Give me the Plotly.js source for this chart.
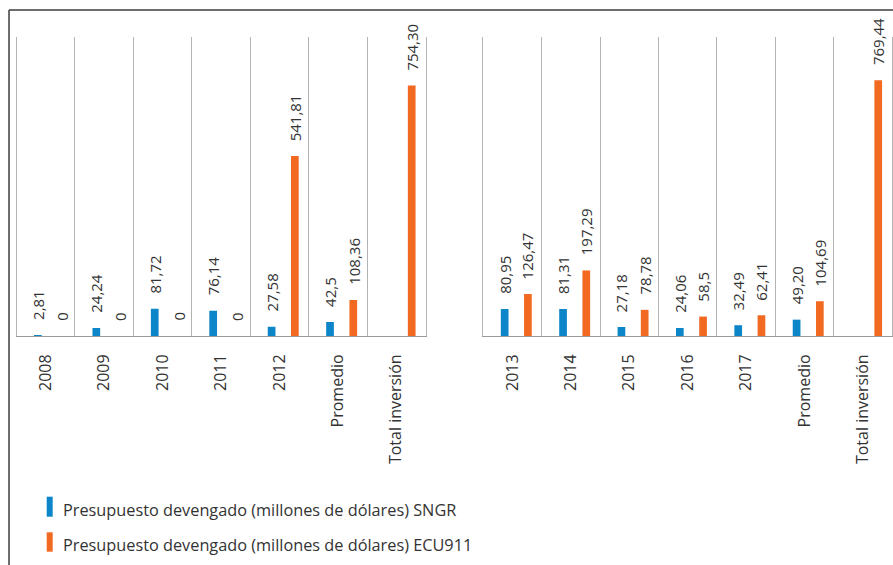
<!DOCTYPE html>
<html><head><meta charset="utf-8">
<script src="https://cdn.plot.ly/plotly-3.0.1.min.js"></script>
<style>html,body{margin:0;padding:0;background:#fff}</style>
</head><body><div id="chart" style="width:893px;height:565px"></div>
<script>
const categoriesLeft = ['2008','2009','2010','2011','2012','Promedio','Total inversión'];
const categoriesRight = ['2013','2014','2015','2016','2017','Promedio','Total inversión'];
const sngrLeft = [2.81, 24.24, 81.72, 76.14, 27.58, 42.5, null];
const ecuLeft = [0, 0, 0, 0, 541.81, 108.36, 754.30];
const sngrRight = [80.95, 81.31, 27.18, 24.06, 32.49, 49.20, null];
const ecuRight = [126.47, 197.29, 78.78, 58.5, 62.41, 104.69, 769.44];
const sngrLeftLabels = ['2,81','24,24','81,72','76,14','27,58','42,5',''];
const ecuLeftLabels = ['0','0','0','0','541,81','108,36','754,30'];
const sngrRightLabels = ['80,95','81,31','27,18','24,06','32,49','49,20',''];
const ecuRightLabels = ['126,47','197,29','78,78','58,5','62,41','104,69','769,44'];
const seriesNames = ['Presupuesto devengado (millones de dólares) SNGR', 'Presupuesto devengado (millones de dólares) ECU911'];

const W = 893, H = 565;
const BLUE = '#0d86c9', ORANGE = '#f26a22';
const FONT = '"Open Sans", "Noto Sans", sans-serif';
const TXT = '#333333';
const BW = 0.132, OFF_B = -0.20, OFF_O = 0.198;

function bar(x, y, color, xa, ya, name) {
  return {type:'bar', x:x, y:y, xaxis:xa, yaxis:ya, name:name, showlegend:false,
    marker:{color:color, line:{width:0}}, width:BW, offset:(color===BLUE?OFF_B:OFF_O), hoverinfo:'skip'};
}
const data = [
  bar(categoriesLeft, sngrLeft, BLUE, 'x', 'y', seriesNames[0]),
  bar(categoriesLeft, ecuLeft, ORANGE, 'x', 'y', seriesNames[1]),
  bar(categoriesRight, sngrRight, BLUE, 'x2', 'y2', seriesNames[0]),
  bar(categoriesRight, ecuRight, ORANGE, 'x2', 'y2', seriesNames[1])
];

const annotations = [];
function addLabels(cats, vals, labels, xref, yref, off) {
  cats.forEach((c, i) => {
    if (!labels[i]) return;
    annotations.push({xref:xref, yref:yref, x:i + off + BW/2, y:vals[i] || 0, text:labels[i], textangle:-90,
      showarrow:false, xanchor:'center', yanchor:'bottom', yshift:13,
      font:{family:FONT, size:15, color:TXT}});
  });
}
addLabels(categoriesLeft, sngrLeft, sngrLeftLabels, 'x', 'y', OFF_B);
addLabels(categoriesLeft, ecuLeft, ecuLeftLabels, 'x', 'y', OFF_O);
addLabels(categoriesRight, sngrRight, sngrRightLabels, 'x2', 'y2', OFF_B);
addLabels(categoriesRight, ecuRight, ecuRightLabels, 'x2', 'y2', OFF_O);

// legend (manual)
const legendRows = [{c:BLUE, y0:496.7, y1:516.7, ty:510}, {c:ORANGE, y0:532.3, y1:551.7, ty:545}];
const shapes = [];
legendRows.forEach((r, i) => {
  shapes.push({type:'rect', xref:'paper', yref:'paper', x0:46.7/W, x1:52.7/W, y0:1-r.y1/H, y1:1-r.y0/H,
    fillcolor:r.c, line:{width:0}});
  annotations.push({xref:'paper', yref:'paper', x:61/W, y:1-r.ty/H, xanchor:'left', yanchor:'middle',
    text:seriesNames[i], showarrow:false, font:{family:FONT, size:16.3, color:TXT}});
});
// outer frame
shapes.push({type:'line', xref:'paper', yref:'paper', x0:9/W, x1:9/W, y0:0, y1:1-10/H, line:{color:'#3c3c3c', width:1.5}});
shapes.push({type:'line', xref:'paper', yref:'paper', x0:9/W, x1:1, y0:1-10/H, y1:1-10/H, line:{color:'#3c3c3c', width:1.5}});

function xaxis(dom, cats) {
  return {domain:dom, type:'category', range:[-0.5, 6.5], categoryorder:'array', categoryarray:cats,
    tickson:'boundaries', ticks:'', showgrid:true, gridcolor:'#b3b3b3', gridwidth:1,
    showline:true, linecolor:'#9a9a9a', linewidth:1, tickangle:-90, ticklabelstandoff:11,
    tickfont:{family:FONT, size:16, color:TXT}, fixedrange:true, zeroline:false};
}
function yaxis(anchor) {
  return {domain:[1-336/H, 1-37/H], range:[0, 900], anchor:anchor, showgrid:false, zeroline:false,
    showticklabels:false, ticks:'', showline:true, mirror:true, linecolor:'#b3b3b3', linewidth:1, fixedrange:true};
}
const layout = {
  width:W, height:H, margin:{l:0, r:0, t:0, b:0, pad:0}, paper_bgcolor:'#fff', plot_bgcolor:'rgba(0,0,0,0)',
  barmode:'overlay', showlegend:false,
  xaxis: Object.assign(xaxis([16.5/W, 425.5/W], categoriesLeft), {anchor:'y'}),
  yaxis: yaxis('x'),
  xaxis2: Object.assign(xaxis([483.3/W, 892/W], categoriesRight), {anchor:'y2'}),
  yaxis2: yaxis('x2'),
  annotations: annotations, shapes: shapes
};
Plotly.newPlot('chart', data, layout, {staticPlot:true, displayModeBar:false});
</script></body></html>
